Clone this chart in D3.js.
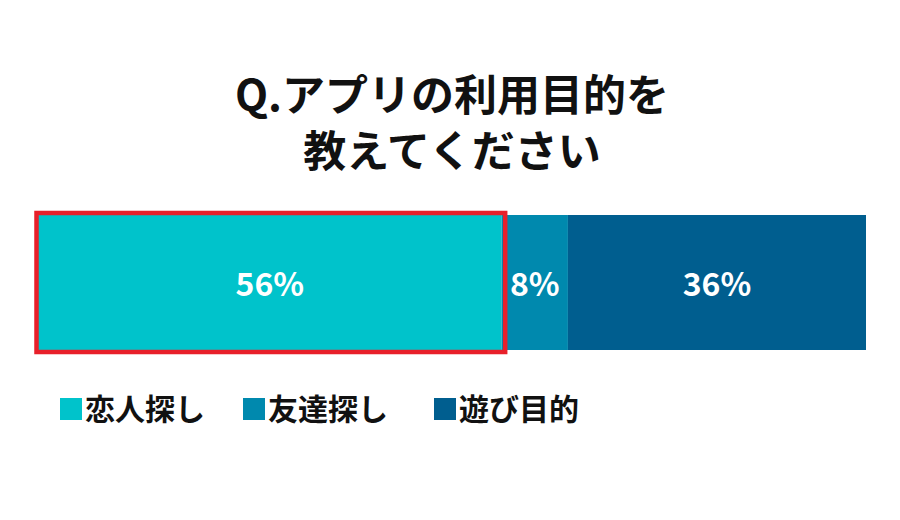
<!DOCTYPE html>
<html><head><meta charset="utf-8">
<script src="https://cdn.jsdelivr.net/npm/d3@7"></script>
<style>body{margin:0;background:#fff}</style></head>
<body><svg id="c" width="900" height="520"></svg>
<script>
const categories = ["恋人探し","友達探し","遊び目的"];
const values = [56, 8, 36];
const colors = ["#00C3CB","#0089AE","#005E8F"];
const titleLines = ["Q.アプリの利用目的を","教えてください"];

const svg = d3.select("#c");
const font = "'Noto Sans CJK JP', sans-serif";
svg.append("rect").attr("width",900).attr("height",520).attr("fill","#fff");
svg.selectAll("text.t").data(titleLines).join("text")
  .attr("x",452).attr("y",(d,i)=>111+i*56).attr("text-anchor","middle")
  .attr("font-family",font).attr("font-weight",700).attr("font-size",43).attr("fill","#111").text(d=>d);

const x = d3.scaleLinear().domain([0,100]).range([38,866]);
let cum = 0;
const segs = values.map((v,i)=>{const s={v,i,start:cum};cum+=v;return s;});
svg.selectAll("rect.b").data(segs).join("rect")
  .attr("x",d=>x(d.start)).attr("width",d=>x(d.start+d.v)-x(d.start))
  .attr("y",215).attr("height",135).attr("fill",d=>colors[d.i]);
svg.selectAll("text.l").data(segs).join("text")
  .attr("x",d=>(x(d.start)+x(d.start+d.v))/2).attr("y",296).attr("text-anchor","middle")
  .attr("font-family",font).attr("font-weight",700).attr("font-size",32).attr("fill","#fff")
  .text(d=>d.v+"%");
svg.append("rect").attr("x",x(0)-1.5).attr("y",213).attr("width",x(56)-x(0)+5).attr("height",139)
  .attr("fill","none").attr("stroke","#E8202A").attr("stroke-width",4.5);

const lx = [60,243,434];
const lg = svg.selectAll("g.lg").data(categories).join("g").attr("transform",(d,i)=>`translate(${lx[i]},398)`);
lg.append("rect").attr("width",22).attr("height",22).attr("fill",(d,i)=>colors[i]);
lg.append("text").attr("x",25).attr("y",22).attr("font-family",font).attr("font-weight",700)
  .attr("font-size",30).attr("fill","#111").text(d=>d);
</script></body></html>
